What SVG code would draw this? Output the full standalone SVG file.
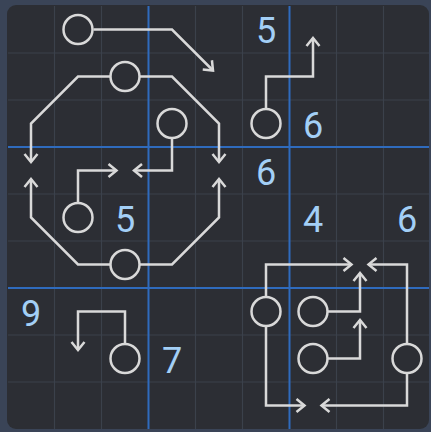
<svg xmlns="http://www.w3.org/2000/svg" width="431" height="432" viewBox="0 0 431 432">
<defs>
<style>
.thin{stroke:#3b414b;stroke-width:1.2}
.major{stroke:#2f6bbd;stroke-width:2}
.w{fill:none;stroke:#d9d9d9;stroke-width:2.5}
.c{fill:none;stroke:#d9d9d9;stroke-width:2.5}
.n{font-family:Roboto,"Liberation Sans",sans-serif;font-size:36px;fill:#a3cff6;text-anchor:middle;dominant-baseline:central}
</style>
<marker id="a" markerUnits="userSpaceOnUse" markerWidth="16" markerHeight="18" viewBox="-12 -9 16 18" refX="0" refY="0" orient="auto">
<path d="M-8,-6.5 L0,0 L-8,6.5" fill="none" stroke="#d9d9d9" stroke-width="2.5"/>
</marker>
</defs>
<rect x="0" y="0" width="431" height="432" fill="#3a4457"/>
<rect x="7" y="5" width="422" height="424" rx="9" fill="#2c2e34"/>
<g id="grid">
<path class="thin" d="M54.5,6V429M101.5,6V429M195.5,6V429M242.5,6V429M336.5,6V429M383.5,6V429M8,53H429M8,100H429M8,194H429M8,241H429M8,335H429M8,382H429"/>
<path class="major" d="M148.5,6V429M289.5,6V429M8,147H429M8,288H429"/>
</g>
<g id="connectors">
<path class="w" marker-end="url(#a)" d="M93.5,29.5H172L213,70.5"/>
<path class="w" marker-end="url(#a)" d="M110.5,76.5H78L31,123.5V162"/>
<path class="w" marker-end="url(#a)" d="M139.5,76.5H172L219,123.5V162"/>
<path class="w" marker-end="url(#a)" d="M172,138V170.5H134"/>
<path class="w" marker-end="url(#a)" d="M78,203V170.5H116.5"/>
<path class="w" marker-end="url(#a)" d="M110.5,264.5H78L31,217.5V179"/>
<path class="w" marker-end="url(#a)" d="M139.5,264.5H172L219,217.5V179"/>
<path class="w" marker-end="url(#a)" d="M266,109V76.5H313V38"/>
<path class="w" marker-end="url(#a)" d="M266,297V264.5H351.5"/>
<path class="w" marker-end="url(#a)" d="M266,326V405.5H304.5"/>
<path class="w" marker-end="url(#a)" d="M327.5,311.5H360V273"/>
<path class="w" marker-end="url(#a)" d="M327.5,358.5H360V320"/>
<path class="w" marker-end="url(#a)" d="M407,344V264.5H368.5"/>
<path class="w" marker-end="url(#a)" d="M407,373V405.5H321.5"/>
<path class="w" marker-end="url(#a)" d="M125,344V311.5H78V350"/>
</g>
<g id="n1"><circle class="c" cx="78" cy="29.5" r="14.5"/></g>
<g id="n2"><circle class="c" cx="125" cy="76.5" r="14.5"/></g>
<g id="n3"><circle class="c" cx="172" cy="123.5" r="14.5"/></g>
<g id="n4"><circle class="c" cx="78" cy="217.5" r="14.5"/></g>
<g id="n5"><circle class="c" cx="125" cy="264.5" r="14.5"/></g>
<g id="n6"><circle class="c" cx="266" cy="123.5" r="14.5"/></g>
<g id="n7"><circle class="c" cx="266" cy="311.5" r="14.5"/></g>
<g id="n8"><circle class="c" cx="313" cy="311.5" r="14.5"/></g>
<g id="n9"><circle class="c" cx="313" cy="358.5" r="14.5"/></g>
<g id="n10"><circle class="c" cx="407" cy="358.5" r="14.5"/></g>
<g id="n11"><circle class="c" cx="125" cy="358.5" r="14.5"/></g>
<g id="numbers">
<text class="n" x="266" y="31">5</text>
<text class="n" x="313" y="125.5">6</text>
<text class="n" x="266" y="172.5">6</text>
<text class="n" x="125" y="219.5">5</text>
<text class="n" x="313" y="219.5">4</text>
<text class="n" x="407" y="219.5">6</text>
<text class="n" x="31" y="313.5">9</text>
<text class="n" x="172" y="360.5">7</text>
</g>
</svg>
